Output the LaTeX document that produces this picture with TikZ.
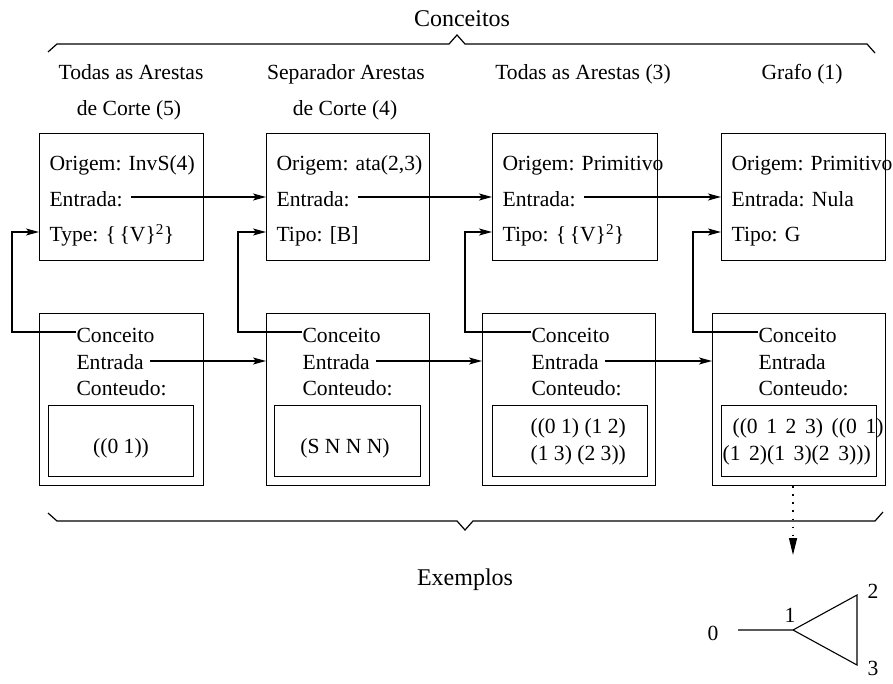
\documentclass[tikz,border=0pt]{standalone}
\usepackage{fontspec}
\setmainfont{Liberation Serif}
\usetikzlibrary{arrows.meta}
\begin{document}
\begin{tikzpicture}[x=1pt, y=-1pt, line width=1.1pt,
  every node/.style={font=\fontsize{21.6}{26}\selectfont},
  title/.style={inner sep=0pt, anchor=base, font=\fontsize{24}{28}\selectfont},
  head/.style={inner sep=0pt, anchor=base},
  txt/.style={inner sep=0pt, anchor=base west, text height=20pt, text depth=0pt},
  ctr/.style={inner sep=0pt, anchor=base},
  box/.style={draw, rectangle, inner sep=0pt, anchor=north west},
  link/.style={-{Stealth[length=13pt,width=7pt,inset=3pt]}},
  back/.style={-{Stealth[length=13pt,width=7pt,inset=3pt]}},
]
\useasboundingbox (0,0) rectangle (893,684);

% ---- titles and braces
\node[title] (conc) at (462,27) {Conceitos};
\draw[line width=1.2pt] (48,52) -- (57,44) -- (449,44) -- (457,35) -- (465,44)
      -- (867,44) -- (875,53);
\node[title] (exem) at (465,585) {Exemplos};
\draw[line width=1.2pt] (48,513) -- (57,521) -- (457,521) -- (465,530) -- (473,521)
      -- (875,521) -- (883,512);

% ---- column headings
\node[head] (h1a) at (131,80) {Todas as Arestas};
\node[head] (h1b) at (129,116) {de Corte (5)};
\node[head] (h2a) at (346,80) {Separador Arestas};
\node[head] (h2b) at (345,116) {de Corte (4)};
\node[head] (h3)  at (583,80) {Todas as Arestas (3)};
\node[head] (h4)  at (802,80) {Grafo (1)};

% ---- concept boxes (top row)
\node[box, minimum width=164pt, minimum height=127pt] (t1) at (39,133) {};
\node[box, minimum width=163pt, minimum height=127pt] (t2) at (266,133) {};
\node[box, minimum width=165pt, minimum height=127pt] (t3) at (492,133) {};
\node[box, minimum width=164pt, minimum height=127pt] (t4) at (721,133) {};

\node[txt] (t1o) at (49,171) {Origem: InvS(4)};
\node[txt] (t1e) at (49,207) {Entrada:};
\node[txt] (t1y) at (49,242) {Type: \{\,\{V\}\textsuperscript{2}\}};

\node[txt] (t2o) at (276,171) {Origem: ata(2,3)};
\node[txt] (t2e) at (276,207) {Entrada:};
\node[txt] (t2y) at (276,242) {Tipo: [B]};

\node[txt] (t3o) at (502,171) {Origem: Primitivo};
\node[txt] (t3e) at (502,207) {Entrada:};
\node[txt] (t3y) at (502,242) {Tipo: \{\,\{V\}\textsuperscript{2}\}};

\node[txt] (t4o) at (731,171) {Origem: Primitivo};
\node[txt] (t4e) at (731,207) {Entrada: Nula};
\node[txt] (t4y) at (731,242) {Tipo: G};

% ---- example boxes (bottom row)
\node[box, minimum width=164pt, minimum height=172pt] (b1) at (39,313) {};
\node[box, minimum width=163pt, minimum height=172pt] (b2) at (266,313) {};
\node[box, minimum width=173pt, minimum height=172pt] (b3) at (482,313) {};
\node[box, minimum width=173pt, minimum height=172pt] (b4) at (712,313) {};

\node[box, minimum width=145pt, minimum height=71pt] (i1) at (48,405) {};
\node[box, minimum width=146pt, minimum height=71pt] (i2) at (274,405) {};
\node[box, minimum width=155pt, minimum height=71pt] (i3) at (492,405) {};
\node[box, minimum width=155pt, minimum height=71pt] (i4) at (721,405) {};

\node[txt] (b1c) at (76,342) {Conceito};
\node[txt] (b1e) at (76,369) {Entrada};
\node[txt] (b1t) at (76,395) {Conteudo:};
\node[txt] (b2c) at (302,342) {Conceito};
\node[txt] (b2e) at (302,369) {Entrada};
\node[txt] (b2t) at (302,395) {Conteudo:};
\node[txt] (b3c) at (531,342) {Conceito};
\node[txt] (b3e) at (531,369) {Entrada};
\node[txt] (b3t) at (531,395) {Conteudo:};
\node[txt] (b4c) at (758,342) {Conceito};
\node[txt] (b4e) at (758,369) {Entrada};
\node[txt] (b4t) at (758,395) {Conteudo:};

\node[ctr] (v1) at (121,453) {((0 1))};
\node[ctr] (v2) at (345,453) {(S N N N)};
\node[txt] (v3a) at (530,433) {((0 1) (1 2)};
\node[txt] (v3b) at (530,460) {(1 3) (2 3))};
\node[txt] (v4a) at (732,433) {\spaceskip=8.6pt ((0 1 2 3) ((0 1)};
\node[txt] (v4b) at (722,460) {\spaceskip=8.6pt (1 2)(1 3)(2 3)))};

% ---- input links between concepts
\draw[link] ([xshift=8pt]t1e.east) -- (t1e.east -| t2.west);
\draw[link] ([xshift=8pt]t2e.east) -- (t2e.east -| t3.west);
\draw[link] ([xshift=8pt]t3e.east) -- (t3e.east -| t4.west);

% ---- input links between examples
\draw[link] ([xshift=6pt,yshift=-2pt]b1e.east) -- ([yshift=-2pt]b1e.east -| b2.west);
\draw[link] ([xshift=6pt,yshift=-2pt]b2e.east) -- ([yshift=-2pt]b2e.east -| b3.west);
\draw[link] ([xshift=6pt,yshift=-2pt]b3e.east) -- ([yshift=-2pt]b3e.east -| b4.west);

% ---- each example points back to its concept
\coordinate (k1) at (12,0);
\coordinate (k2) at (238,0);
\coordinate (k3) at (465,0);
\coordinate (k4) at (693,0);
\draw[back] (b1c.west) -- (b1c.west -| k1) -- (k1 |- t1y.west) -- (t1y.west -| t1.west);
\draw[back] (b2c.west) -- (b2c.west -| k2) -- (k2 |- t2y.west) -- (t2y.west -| t2.west);
\draw[back] (b3c.west) -- (b3c.west -| k3) -- (k3 |- t3y.west) -- (t3y.west -| t3.west);
\draw[back] (b4c.west) -- (b4c.west -| k4) -- (k4 |- t4y.west) -- (t4y.west -| t4.west);

% ---- example graph
\coordinate (g0) at (738,630);
\coordinate (g1) at (793,630);
\coordinate (g2) at (857,595);
\coordinate (g3) at (857,665);
\coordinate (gtip) at (793,555);
\draw[line width=1.2pt, dash pattern=on 1.6pt off 6.5pt,
      -{Triangle[length=17pt,width=8pt]}] (b4.south -| g1) -- (gtip);
\draw (g0) -- (g1) -- (g2) -- (g3) -- (g1);
\node[ctr] (l0) at (713,640) {0};
\node[ctr] (l1) at (790,622) {1};
\node[ctr] (l2) at (873,598) {2};
\node[ctr] (l3) at (873,675) {3};
\end{tikzpicture}
\end{document}
